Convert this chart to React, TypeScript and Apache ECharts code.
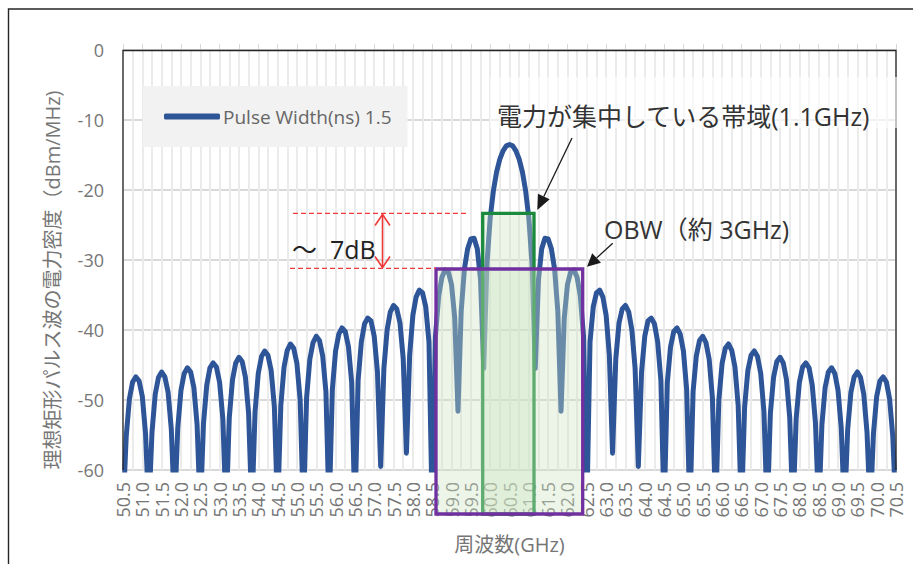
import React, { useEffect, useRef } from "react";
import * as echarts from "echarts";

// ---- data ----
const seriesName = "Pulse Width(ns) 1.5";
const freqStartGHz = 50.5;
const freqStepGHz = 1 / 12; // sampling grid of the listed values (8 samples per side lobe)

// lower sideband 50.50 GHz -> 60.42 GHz (each row: lobe null, then 7 samples)
const psdLowerDbm: number[] = [
  -66, -55.2, -49.8, -47.4, -46.7, -47.3, -49.5, -54.8,
  -66, -54.6, -49.2, -46.8, -46.0, -46.7, -48.9, -54.2,
  -66, -54.0, -48.6, -46.2, -45.4, -46.0, -48.2, -53.5,
  -66, -53.3, -47.9, -45.4, -44.7, -45.3, -47.5, -52.7,
  -66, -52.5, -47.1, -44.7, -43.9, -44.5, -46.7, -51.9,
  -66, -51.7, -46.2, -43.8, -43.0, -43.6, -45.8, -51.0,
  -66, -50.8, -45.3, -42.9, -42.0, -42.6, -44.8, -50.0,
  -66, -49.7, -44.2, -41.8, -40.9, -41.5, -43.7, -48.8,
  -66, -48.5, -43.0, -40.6, -39.7, -40.2, -42.4, -47.5,
  -66, -47.2, -41.7, -39.1, -38.3, -38.7, -40.9, -46.0,
  -59.5, -45.5, -40.0, -37.4, -36.5, -37.0, -39.0, -44.1,
  -57.6, -43.6, -37.9, -35.3, -34.3, -34.7, -36.7, -41.7,
  -66, -41.0, -35.2, -32.5, -31.4, -31.7, -33.5, -38.3,
  -51.6, -37.3, -31.3, -28.4, -27.0, -26.9, -28.4, -32.8,
  -45.5, -30.6, -24.0, -20.1, -17.4, -15.6, -14.4, -13.7,
];
// carrier peak at 60.5 GHz
const psdCarrierDbm = -13.5;
// upper sideband 60.58 GHz -> 70.50 GHz (each row: 7 samples, then lobe null)
const psdUpperDbm: number[] = [
  -13.7, -14.4, -15.6, -17.4, -20.1, -24.0, -30.6, -45.5,
  -32.8, -28.4, -26.9, -27.0, -28.4, -31.3, -37.3, -51.6,
  -38.3, -33.5, -31.7, -31.4, -32.5, -35.2, -41.0, -66,
  -41.7, -36.7, -34.7, -34.3, -35.3, -37.9, -43.6, -57.6,
  -44.1, -39.0, -37.0, -36.5, -37.4, -40.0, -45.5, -59.5,
  -46.0, -40.9, -38.7, -38.3, -39.1, -41.7, -47.2, -66,
  -47.5, -42.4, -40.2, -39.7, -40.6, -43.0, -48.5, -66,
  -48.8, -43.7, -41.5, -40.9, -41.8, -44.2, -49.7, -66,
  -50.0, -44.8, -42.6, -42.0, -42.9, -45.3, -50.8, -66,
  -51.0, -45.8, -43.6, -43.0, -43.8, -46.2, -51.7, -66,
  -51.9, -46.7, -44.5, -43.9, -44.7, -47.1, -52.5, -66,
  -52.7, -47.5, -45.3, -44.7, -45.4, -47.9, -53.3, -66,
  -53.5, -48.2, -46.0, -45.4, -46.2, -48.6, -54.0, -66,
  -54.2, -48.9, -46.7, -46.0, -46.8, -49.2, -54.6, -66,
  -54.8, -49.5, -47.3, -46.7, -47.4, -49.8, -55.2, -66,
];

const xAxisRange = [50.5, 70.5];
const yAxisRange = [-60, 0];
const yAxisTitle = "理想矩形パルス波の電力密度（dBm/MHz)";
const xAxisTitle = "周波数(GHz)";
const noteBand = "電力が集中している帯域(1.1GHz)";
const noteObw = "OBW（約 3GHz)";
const noteDelta = "～  7dB";

const FONT = "'Open Sans', 'Noto Sans CJK JP', sans-serif";
const LABEL_GRAY = "#767676";
const BOX_FILL = "rgba(205,228,195,0.38)";
const RED = "#f03a3a";
const LINE_BLUE = "#2e5597";

function txt(text: string, x: number, y: number, size: number, color: string, extra: any = {}) {
  return {
    type: "text",
    x,
    y,
    z: 60,
    ...extra,
    style: {
      text,
      fill: color,
      fontSize: size,
      fontFamily: FONT,
      align: extra.align || "left",
      textAlign: extra.align || "left",
      verticalAlign: "middle",
      textVerticalAlign: "middle",
    },
  };
}

export default function App() {
  const ref = useRef<HTMLDivElement>(null);

  useEffect(() => {
    if (!ref.current) return;
    const chart = echarts.init(ref.current, null, { renderer: "svg" });
    const psd = [...psdLowerDbm, psdCarrierDbm, ...psdUpperDbm];
    const data = psd.map((v, i) => [freqStartGHz + i * freqStepGHz, v]);

    chart.setOption({
      animation: false,
      backgroundColor: "#ffffff",
      textStyle: { fontFamily: FONT },
      grid: { left: 123, top: 50, width: 773, height: 420, containLabel: false },
      legend: {
        data: [{ name: seriesName, icon: "roundRect" }],
        left: 143,
        top: 86,
        backgroundColor: "#f2f2f2",
        padding: [21, 16, 21, 21],
        itemWidth: 56,
        itemHeight: 6,
        itemStyle: { color: LINE_BLUE },
        selectedMode: false,
        textStyle: { color: "#666666", fontSize: 19, fontFamily: FONT, padding: [0, 0, 0, -2] },
      },
      xAxis: {
        type: "value",
        min: xAxisRange[0],
        max: xAxisRange[1],
        interval: 0.5,
        name: xAxisTitle,
        nameLocation: "middle",
        nameGap: 64,
        nameTextStyle: { color: LABEL_GRAY, fontSize: 20, fontFamily: FONT },
        axisLine: { show: true, lineStyle: { color: "#d9d9d9", width: 2 } },
        axisTick: { show: true, inside: true, length: 6, lineStyle: { color: "#d9d9d9", width: 1 } },
        minorTick: { show: false, splitNumber: 2 },
        splitLine: { show: true, lineStyle: { color: "#ebebeb", width: 2 } },
        minorSplitLine: { show: true, lineStyle: { color: "#ebebeb", width: 2 } },
        axisLabel: {
          rotate: 90,
          margin: 12,
          color: LABEL_GRAY,
          fontSize: 18,
          fontFamily: FONT,
          formatter: (v: number) => v.toFixed(1),
        },
      },
      yAxis: {
        type: "value",
        min: yAxisRange[0],
        max: yAxisRange[1],
        interval: 10,
        axisLine: { show: false },
        axisTick: { show: false },
        splitLine: { show: true, lineStyle: { color: "#d9d9d9", width: 2 } },
        axisLabel: { margin: 19, color: LABEL_GRAY, fontSize: 18, fontFamily: FONT },
      },
      series: [
        {
          name: seriesName,
          type: "line",
          data,
          symbol: "none",
          showSymbol: false,
          clip: true,
          lineStyle: { color: LINE_BLUE, width: 5, join: "round", cap: "round" },
          itemStyle: { color: LINE_BLUE },
          z: 3,
        },
      ],
      graphic: [
        // outer frame
        {
          type: "polyline",
          z: 50,
          shape: { points: [[8.5, 700], [8.5, 9], [1000, 9]] },
          style: { stroke: "#262626", lineWidth: 1.4, fill: "none" },
        },
        // plot area border
        {
          type: "polyline",
          z: 50,
          shape: { points: [[123, 470], [123, 50.5], [896, 50.5], [896, 470]] },
          style: { stroke: "#262626", lineWidth: 1.3, fill: "none" },
        },
        // translucent text box behind the band note
        {
          type: "rect",
          z: 51,
          shape: { x: 490, y: 77, width: 408, height: 51 },
          style: { fill: "rgba(255,255,255,0.6)" },
        },
        // green box (power concentrated band)
        {
          type: "rect",
          z: 52,
          shape: { x: 482.7, y: 213.3, width: 51.3, height: 300.7 },
          style: { fill: BOX_FILL, stroke: "#1b8a3c", lineWidth: 3.3 },
        },
        // purple box (OBW)
        {
          type: "rect",
          z: 53,
          shape: { x: 436, y: 269, width: 146.7, height: 245 },
          style: { fill: BOX_FILL, stroke: "#7030a0", lineWidth: 3.3 },
        },
        // red dashed reference lines
        {
          type: "line",
          z: 54,
          shape: { x1: 293, y1: 213.3, x2: 467, y2: 213.3 },
          style: { stroke: RED, lineWidth: 1.3, lineDash: [5, 3] },
        },
        {
          type: "line",
          z: 54,
          shape: { x1: 290, y1: 268.3, x2: 436, y2: 268.3 },
          style: { stroke: RED, lineWidth: 1.3, lineDash: [5, 3] },
        },
        // red double arrow
        {
          type: "line",
          z: 54,
          shape: { x1: 382.5, y1: 214.5, x2: 382.5, y2: 267 },
          style: { stroke: RED, lineWidth: 1.6 },
        },
        {
          type: "polyline",
          z: 54,
          shape: { points: [[375, 225.5], [382.5, 214.5], [390, 225.5]] },
          style: { stroke: RED, lineWidth: 1.6, fill: "none" },
        },
        {
          type: "polyline",
          z: 54,
          shape: { points: [[375, 256.5], [382.5, 267.5], [390, 256.5]] },
          style: { stroke: RED, lineWidth: 1.6, fill: "none" },
        },
        // black arrows
        {
          type: "line",
          z: 55,
          shape: { x1: 572, y1: 138, x2: 543.8, y2: 196.5 },
          style: { stroke: "#1a1a1a", lineWidth: 1.3 },
        },
        {
          type: "polygon",
          z: 55,
          shape: { points: [[537.3, 210], [549.7, 199.3], [537.9, 193.7]] },
          style: { fill: "#1a1a1a" },
        },
        {
          type: "line",
          z: 55,
          shape: { x1: 612.7, y1: 243.3, x2: 596.6, y2: 258 },
          style: { stroke: "#1a1a1a", lineWidth: 1.3 },
        },
        {
          type: "polygon",
          z: 55,
          shape: { points: [[587, 266.7], [601, 262.8], [592.2, 253.2]] },
          style: { fill: "#1a1a1a" },
        },
        // annotation texts
        txt(noteBand, 497, 115.5, 25, "#333333"),
        txt(noteObw, 604, 228.5, 25, "#333333"),
        txt(noteDelta, 292, 248.5, 25, "#222222"),
        // y-axis title
        txt(yAxisTitle, 52, 280, 20, LABEL_GRAY, { rotation: Math.PI / 2, align: "center" }),
      ],
    });
    return () => chart.dispose();
  }, []);

  return (
    <div
      ref={ref}
      style={{ position: "fixed", left: 0, top: 0, width: 913, height: 564, background: "#ffffff" }}
    />
  );
}
